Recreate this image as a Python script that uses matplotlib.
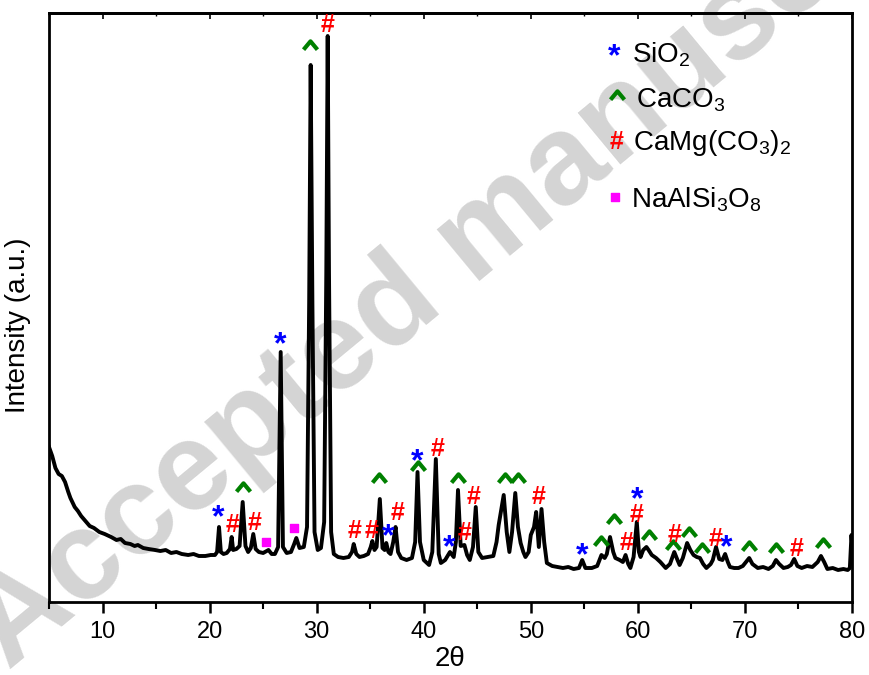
import matplotlib
matplotlib.use("Agg")
import matplotlib.pyplot as plt
from matplotlib.path import Path
from matplotlib.ticker import MultipleLocator, NullLocator

plt.rcParams["font.family"] = ["Liberation Sans", "DejaVu Sans"]
plt.rcParams["mathtext.fontset"] = "custom"
plt.rcParams["mathtext.rm"] = "Liberation Sans"
plt.rcParams["mathtext.it"] = "Liberation Sans:italic"
plt.rcParams["mathtext.bf"] = "Liberation Sans:bold"
plt.rcParams["mathtext.default"] = "regular"

# XRD pattern (2theta, intensity in a.u.)
two_theta = [
    5.0, 5.3, 5.6, 5.9, 6.2, 6.5, 6.8, 7.0, 7.4, 7.7, 8.0, 8.4, 8.8, 9.2, 9.7,
    10.2, 10.8, 11.3, 11.7, 12.1, 12.6, 13.0, 13.3, 13.8, 14.3, 14.9, 15.4,
    15.9, 16.4, 16.9, 17.4, 18.0, 18.5, 19.0, 19.6, 20.1, 20.5, 20.7, 20.88,
    21.05, 21.3, 21.6, 21.9, 22.06, 22.2, 22.5, 22.8, 23.09, 23.35, 23.6,
    23.85, 24.08, 24.3, 24.6, 25.0, 25.5, 25.8, 26.1, 26.4, 26.64, 26.85,
    27.2, 27.6, 27.9, 28.1, 28.4, 28.8, 29.1, 29.3, 29.44, 29.6, 29.8, 30.1,
    30.4, 30.7, 30.9, 31.03, 31.15, 31.35, 31.6, 32.0, 32.5, 33.0, 33.3,
    33.46, 33.7, 34.0, 34.4, 34.8, 35.05, 35.2, 35.4, 35.6, 35.9, 36.15,
    36.35, 36.5, 36.7, 36.9, 37.15, 37.37, 37.6, 37.9, 38.4, 38.9, 39.2,
    39.42, 39.65, 40.0, 40.5, 40.8, 41.13, 41.4, 41.6, 42.0, 42.45, 42.8,
    43.0, 43.2, 43.45, 43.8, 44.05, 44.3, 44.6, 44.86, 45.1, 45.45, 46.0,
    46.5, 46.8, 47.0, 47.47, 47.75, 48.0, 48.25, 48.55, 48.8, 49.05, 49.3,
    49.5, 49.8, 50.0, 50.3, 50.5, 50.75, 51.0, 51.25, 51.5, 52.0, 52.5, 53.0,
    53.5, 54.0, 54.5, 54.8, 55.1, 55.7, 56.2, 56.6, 56.9, 57.1, 57.4, 57.7,
    57.9, 58.3, 58.6, 58.85, 59.1, 59.3, 59.6, 59.9, 60.1, 60.25, 60.5, 60.8,
    61.0, 61.3, 61.7, 62.1, 62.6, 63.0, 63.4, 63.7, 63.9, 64.2, 64.6, 64.9,
    65.2, 65.5, 65.8, 66.1, 66.4, 66.8, 67.0, 67.3, 67.6, 67.9, 68.15, 68.4,
    68.6, 69.0, 69.4, 69.8, 70.1, 70.4, 70.7, 71.2, 71.7, 72.2, 72.6, 72.9,
    73.2, 73.6, 74.0, 74.3, 74.6, 74.9, 75.3, 75.8, 76.3, 76.8, 77.1, 77.4,
    77.7, 78.2, 78.7, 79.2, 79.6, 79.8, 79.95, 80.0,
]
intensity = [
    155, 146, 134, 128, 126, 120, 110, 104, 95, 91, 86, 81, 76, 74, 70,
    68, 65, 62, 63, 59, 58, 56, 57, 54, 53, 52, 51,
    52, 49, 50, 48, 47, 48, 46, 46, 47, 47, 50, 75,
    50, 48, 49, 53, 65, 52, 53, 56, 100, 56, 50,
    54, 68, 53, 50, 49, 52, 48, 48, 55, 250, 55,
    49, 50, 58, 64, 54, 55, 75, 300, 537, 300, 70, 52,
    54, 80, 330, 566, 330, 70, 48, 45, 44, 45, 50,
    58, 48, 45, 46, 48, 55, 61, 52, 55, 103, 54,
    52, 59, 50, 48, 60, 75, 50, 44, 42, 44, 60,
    130, 60, 42, 37, 50, 143, 48, 39, 42, 50, 45,
    60, 112, 56, 57, 47, 42, 55, 95, 50, 44, 45,
    46, 60, 77, 107, 70, 50, 70, 109, 75, 59, 50,
    45, 50, 67, 75, 90, 55, 93, 60, 39, 36, 35, 34,
    35, 33, 34, 42, 34, 34, 36, 47, 44, 48, 65, 50,
    44, 42, 40, 47, 38, 34, 45, 80, 50, 45, 52, 55,
    52, 47, 44, 40, 34, 38, 50, 42, 37, 44, 59, 52,
    47, 45, 44, 38, 34, 38, 42, 55, 43, 42, 48, 40,
    35, 34, 34, 36, 40, 44, 38, 34, 35, 33, 36, 42,
    38, 34, 35, 37, 43, 36, 34, 36, 35, 40, 46, 40,
    33, 34, 32, 33, 32, 34, 67, 60,
]

# phase marks above the peaks (2theta, height)
sio2_x = [20.8, 26.6, 36.7, 39.4, 42.4, 54.8, 59.9, 68.2]
sio2_y = [94, 267, 75, 150, 64, 56, 112, 64]
caco3_x = [23.1, 29.4, 35.8, 39.5, 43.2, 47.6, 48.8, 56.6, 57.8, 61.0, 63.3, 64.8, 66.0, 70.4, 72.9, 77.3]
caco3_y = [115, 557, 124, 136, 124, 124, 124, 61, 83, 67, 57, 70, 54, 56, 54, 59]
dolomite_x = [22.1, 24.2, 31.0, 33.5, 35.1, 37.6, 41.3, 43.8, 44.7, 50.7, 58.9, 59.9, 63.4, 67.3, 74.8]
dolomite_y = [80, 82, 579, 73, 73, 92, 156, 71, 108, 108, 61, 90, 70, 65, 56]
albite_x = [25.3, 27.9]
albite_y = [60, 74]

legend_labels = ["SiO$_2$", "CaCO$_3$", "CaMg(CO$_3$)$_2$", "NaAlSi$_3$O$_8$"]

BLUE = "#0000ff"
GREEN = "#008000"
RED = "#ff0000"
MAGENTA = "#ff00ff"

# open chevron used for the CaCO3 caret
CARET = Path([(-1.0, -0.6), (0.0, 0.6), (1.0, -0.6)],
             [Path.MOVETO, Path.LINETO, Path.LINETO])

# text symbol: (size, shift in pt so the glyph centre sits on the point)
SYMBOLS = {
    "*": (23, -7.2),
    "#": (18, -1.8),
}


def mark(ax, x, y, sym, color, transform=None):
    size, dy = SYMBOLS[sym]
    ax.annotate(sym, (x, y), xycoords=transform or "data", xytext=(0, dy),
                textcoords="offset points", ha="center", va="center",
                fontsize=size, fontweight="bold", color=color, zorder=4)


def caret(ax, xs, ys, transform=None):
    ax.plot(xs, ys, linestyle="none", marker=CARET, markersize=10,
            markeredgewidth=3.0, markeredgecolor=GREEN, markerfacecolor="none",
            transform=transform or ax.transData, zorder=4)


fig = plt.figure(figsize=(8.69, 6.75), dpi=100)
ax = fig.add_axes([49 / 869, 1 - 602 / 675, 803 / 869, 589 / 675])
ax.set_facecolor("none")

# watermark, behind everything
ax.text(0.010, 0.006, "Accepted manuscript", transform=fig.transFigure,
        rotation=39.6, rotation_mode="anchor", ha="left", va="baseline",
        fontsize=91, fontweight="bold", color="#d4d4d4", zorder=0, clip_on=False)

ax.plot(two_theta, intensity, color="black", linewidth=2.8, zorder=3)

for x, y in zip(sio2_x, sio2_y):
    mark(ax, x, y, "*", BLUE)
caret(ax, caco3_x, caco3_y)
for x, y in zip(dolomite_x, dolomite_y):
    mark(ax, x, y, "#", RED)
ax.scatter(albite_x, albite_y, marker="s", s=30, color=MAGENTA, zorder=4)

# legend drawn as text, like the original
lx_sym = [0.7036, 0.7073, 0.7073, 0.705]
ly_sym = [0.9423, 0.8608, 0.7844, 0.6876]
lx_txt = [0.726, 0.731, 0.727, 0.7248]
ly_txt = [0.9168, 0.8404, 0.7674, 0.6706]
mark(ax, lx_sym[0], ly_sym[0], "*", BLUE, ax.transAxes)
caret(ax, [lx_sym[1]], [ly_sym[1]], ax.transAxes)
mark(ax, lx_sym[2], ly_sym[2], "#", RED, ax.transAxes)
ax.scatter([lx_sym[3]], [ly_sym[3]], marker="s", s=30, color=MAGENTA,
           transform=ax.transAxes, zorder=4)
for x, y, lab in zip(lx_txt, ly_txt, legend_labels):
    ax.text(x, y, lab, transform=ax.transAxes, ha="left", va="baseline",
            fontsize=20, color="black", zorder=4)

ax.set_xlim(5, 80)
ax.set_ylim(0, 589)
ax.xaxis.set_major_locator(MultipleLocator(10))
ax.xaxis.set_minor_locator(MultipleLocator(5))
ax.yaxis.set_major_locator(NullLocator())
ax.yaxis.set_minor_locator(NullLocator())
ax.tick_params(axis="x", which="major", direction="out", length=8, width=1.8,
               labelsize=17, pad=6)
ax.tick_params(axis="x", which="minor", direction="out", length=5, width=1.5)
for s in ax.spines.values():
    s.set_linewidth(2)

# small inward ticks on the top edge
top = ax.secondary_xaxis("top")
top.xaxis.set_major_locator(MultipleLocator(10))
top.xaxis.set_minor_locator(MultipleLocator(5))
top.tick_params(which="major", direction="in", length=4, width=1.2, labeltop=False)
top.tick_params(which="minor", direction="in", length=2.5, width=1.0)
top.spines["top"].set_linewidth(2)

ax.set_xlabel("2θ", fontsize=20, labelpad=2)
ax.set_ylabel("Intensity (a.u.)", fontsize=20)
ax.yaxis.set_label_coords(-0.022, 0.47)

fig.savefig("out.png", dpi=100)
